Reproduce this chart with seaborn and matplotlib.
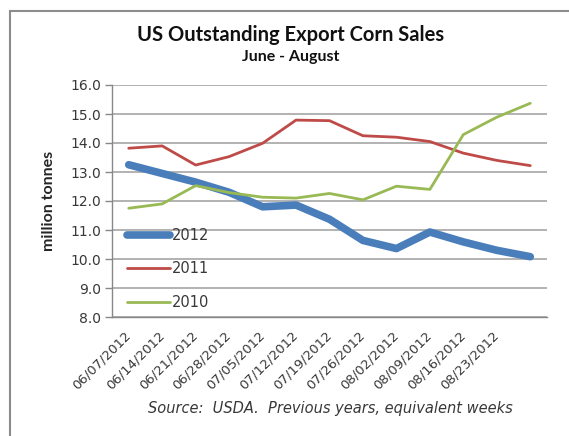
import matplotlib
matplotlib.use("Agg")
import matplotlib.pyplot as plt
import matplotlib.patches as mpatches
import seaborn as sns
import pandas as pd

weeks = ["06/07/2012", "06/14/2012", "06/21/2012", "06/28/2012", "07/05/2012",
         "07/12/2012", "07/19/2012", "07/26/2012", "08/02/2012", "08/09/2012",
         "08/16/2012", "08/23/2012", "08/30/2012"]
tick_labels = weeks[:12] + [""]
years = ["2012", "2011", "2010"]
sales_2012 = [13.25, 12.95, 12.65, 12.3, 11.8, 11.86, 11.37, 10.64, 10.36, 10.93, 10.59, 10.3, 10.08]
sales_2011 = [13.82, 13.9, 13.24, 13.53, 13.99, 14.79, 14.77, 14.25, 14.2, 14.05, 13.65, 13.4, 13.22]
sales_2010 = [11.75, 11.9, 12.53, 12.29, 12.13, 12.1, 12.26, 12.04, 12.51, 12.4, 14.29, 14.89, 15.37]
yticks = [8, 9, 10, 11, 12, 13, 14, 15, 16]

series = {"2012": sales_2012, "2011": sales_2011, "2010": sales_2010}
frames = []
for y in years:
    frames.append(pd.DataFrame({"pos": list(range(len(weeks))), "week": weeks,
                                "value": series[y], "year": y}))
df = pd.concat(frames, ignore_index=True)

sns.set_theme(style="white")
plt.rcParams["font.family"] = ["DejaVu Sans"]

colors = {"2012": "#4a7ebb", "2011": "#be4b48", "2010": "#98b954"}
widths = {"2012": 5.5, "2011": 2.0, "2010": 2.0}

fig = plt.figure(figsize=(5.69, 4.36), dpi=100)
ax = fig.add_axes([112 / 569, 1 - 317 / 436, 435 / 569, 232 / 436])

for y in years:
    sub = df[df["year"] == y]
    sns.lineplot(data=sub, x="pos", y="value", ax=ax, color=colors[y],
                 linewidth=widths[y], label=y, solid_capstyle="round",
                 solid_joinstyle="round")

ax.set_xlim(-0.5, len(weeks) - 0.5)
ax.set_ylim(8, 16)
ax.set_yticks(yticks)
ax.set_yticklabels([f"{v:.1f}" for v in yticks], fontsize=10, color="#383838")
ax.set_xticks(range(len(weeks)))
ax.set_xticklabels(tick_labels, rotation=45, ha="right", va="center",
                   rotation_mode="anchor", fontsize=9.5, color="#383838")
ax.set_xticks([i - 0.5 for i in range(len(weeks) + 1)], minor=True)
ax.tick_params(axis="x", which="major", length=0, pad=12)
ax.tick_params(axis="x", which="minor", length=5, color="#888888", width=1, direction="out")
ax.tick_params(axis="y", which="major", length=5, color="#888888", width=1, direction="out", left=True, pad=3)
ax.grid(axis="y", color="#a6a6a6", linewidth=1.2)
ax.grid(axis="x", visible=False)
for s in ["top", "right"]:
    ax.spines[s].set_visible(False)
for s in ["left", "bottom"]:
    ax.spines[s].set_color("#888888")
    ax.spines[s].set_linewidth(1)
ax.set_xlabel("")
ax.set_ylabel("million tonnes", fontsize=11.5, fontweight="bold", family="Lato", labelpad=10)

leg = ax.legend(loc="center left", bbox_to_anchor=(0.035, 0.207), frameon=False,
                fontsize=10.5, labelspacing=1.25, handlelength=2.9, handletextpad=0.15,
                borderpad=0, borderaxespad=0)
for t in leg.get_texts():
    t.set_color("#383838")

fig.text(0.51, 1 - 35 / 436, "US Outstanding Export Corn Sales", ha="center", va="center",
         fontsize=14.5, fontweight="bold", family="Lato", color="#111111")
fig.text(0.51, 1 - 57 / 436, "June - August", ha="center", va="center",
         fontsize=11.5, fontweight="bold", family="Lato", color="#111111")
fig.text(330 / 569, 1 - 408 / 436, "Source:  USDA.  Previous years, equivalent weeks",
         ha="center", va="center", fontsize=10.5, style="italic", color="#383838")

fig.patches.append(mpatches.Rectangle((10 / 569, -0.1), 1.2, 1 - 11 / 436 + 0.1,
                                      transform=fig.transFigure, fill=False,
                                      edgecolor="#8c8c8c", linewidth=1.5))

fig.savefig("out.png", dpi=100)
